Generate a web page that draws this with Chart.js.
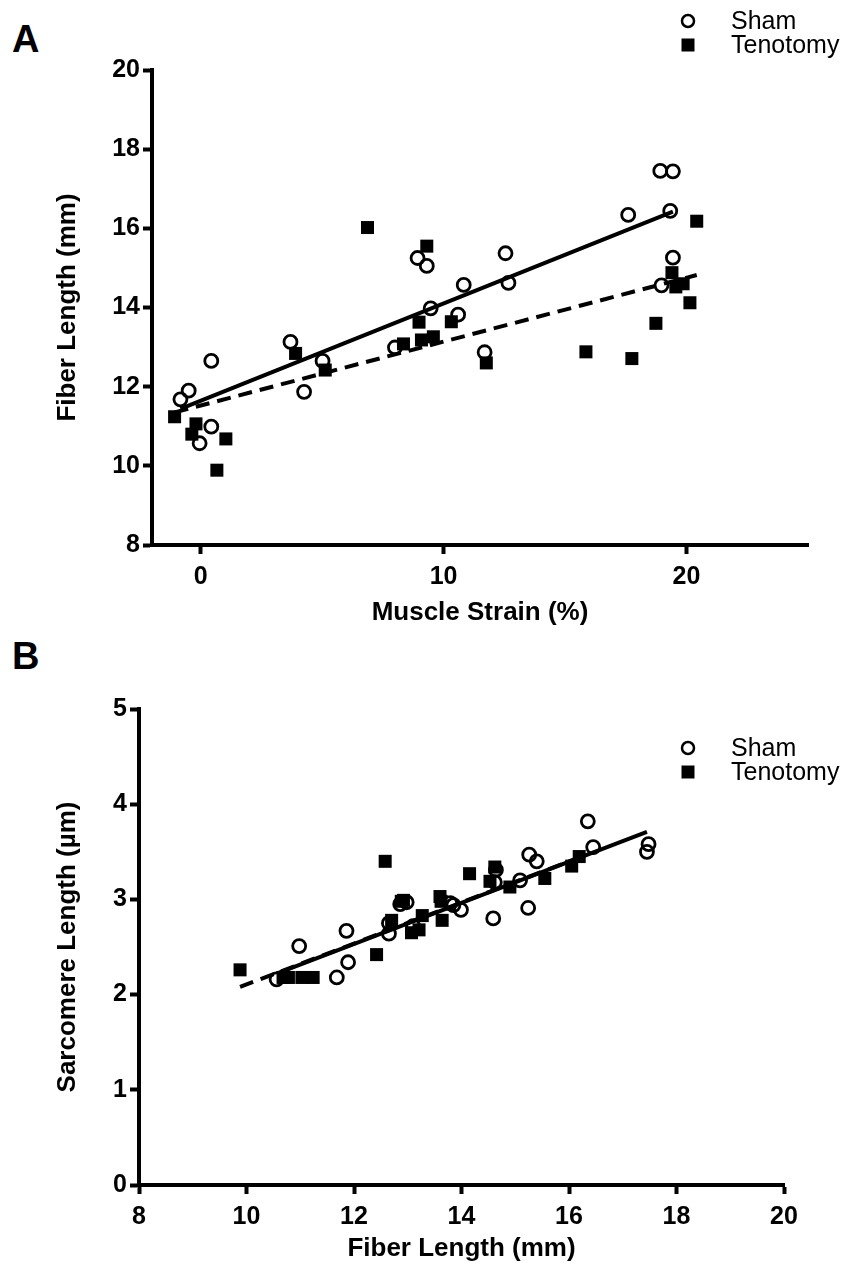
<!DOCTYPE html>
<html>
<head>
<meta charset="utf-8">
<script src="https://cdn.jsdelivr.net/npm/chart.js@4/dist/chart.umd.min.js"></script>
<style>
  html, body { margin: 0; padding: 0; background: #fff; }
  body { width: 845px; height: 1268px; position: relative; overflow: hidden; }
  canvas { position: absolute; left: 0; }
  .panel { position: absolute; font-family: "Liberation Sans", Arial, sans-serif; font-weight: bold; font-size: 38px; line-height: 1; }
</style>
</head>
<body>
<div class="panel" style="left:12px;top:20px;">A</div>
<div class="panel" style="left:12px;top:637px;">B</div>
<canvas id="chartA" width="845" height="630" style="top:0"></canvas>
<canvas id="chartB" width="845" height="638" style="top:630px"></canvas>
<script>
// Panel A: fiber length vs muscle strain
var shamStrain = [-0.83, -0.49, 0.44, 0.44, -0.04, 3.7, 4.26, 5.02, 8.0, 8.93, 9.31, 9.47, 10.6, 10.83, 12.55, 12.67, 11.69, 17.6, 18.92, 19.44, 19.33, 19.44, 18.97];
var shamFiberA = [11.68, 11.9, 12.65, 10.99, 10.57, 13.13, 11.87, 12.65, 12.99, 15.25, 15.05, 13.98, 13.82, 14.57, 15.37, 14.62, 12.87, 16.34, 17.45, 17.44, 16.44, 15.26, 14.56];
var tenoStrain = [-1.07, -0.19, -0.36, 1.04, 0.67, 3.91, 5.13, 6.87, 8.35, 9.31, 8.99, 9.09, 9.58, 10.32, 11.76, 15.86, 17.75, 18.74, 20.42, 19.4, 19.56, 19.86, 20.14];
var tenoFiberA = [11.24, 11.06, 10.8, 10.68, 9.89, 12.84, 12.42, 16.02, 13.08, 15.55, 13.63, 13.18, 13.26, 13.64, 12.6, 12.88, 12.71, 13.6, 16.18, 14.88, 14.52, 14.6, 14.12];
// regression line end points
var shamFitA = [[-0.83, 11.44], [19.44, 16.42]];
var tenoFitA = [[-1.07, 11.35], [20.42, 14.82]];
var ticksAx = [0, 10, 20];
var ticksAy = [8, 10, 12, 14, 16, 18, 20];

// Panel B: sarcomere length vs fiber length
var shamFiberB = [10.56, 10.98, 11.68, 11.86, 11.89, 12.65, 12.65, 12.86, 12.98, 13.1, 13.79, 13.85, 13.99, 14.59, 14.64, 14.62, 15.09, 15.24, 15.26, 15.4, 16.35, 16.45, 17.48, 17.45];
var shamSarc = [2.16, 2.51, 2.18, 2.67, 2.34, 2.75, 2.64, 2.95, 2.97, 2.72, 2.96, 2.94, 2.89, 2.8, 3.31, 3.18, 3.2, 2.91, 3.47, 3.4, 3.82, 3.55, 3.58, 3.5];
var tenoFiberB = [9.88, 10.68, 10.78, 11.03, 11.24, 12.42, 12.58, 12.7, 12.88, 12.92, 13.07, 13.21, 13.27, 13.6, 13.62, 13.64, 14.15, 14.53, 14.62, 14.9, 15.55, 16.05, 16.19];
var tenoSarc = [2.26, 2.18, 2.18, 2.18, 2.18, 2.42, 3.4, 2.78, 2.98, 2.99, 2.65, 2.68, 2.83, 3.03, 2.98, 2.78, 3.27, 3.19, 3.34, 3.13, 3.22, 3.35, 3.45];
var shamFitB = [[10.56, 2.22], [17.45, 3.71]];
var tenoFitB = [[9.88, 2.08], [16.19, 3.44]];
var ticksBx = [8, 10, 12, 14, 16, 18, 20];
var ticksBy = [0, 1, 2, 3, 4, 5];

var FONT = '"Liberation Sans Narrow", "Liberation Sans", Arial, sans-serif';

function pts(xs, ys) {
    return xs.map(function(x, i) { return { x: x, y: ys[i] }; });
}
function linePts(ends) {
    return ends.map(function(p) { return { x: p[0], y: p[1] }; });
}

// legend drawn at a fixed spot, like the original figure
var cornerLegend = {
    id: 'cornerLegend',
    afterDraw: function(chart, args, opts) {
        var ctx = chart.ctx;
        ctx.save();
        ctx.font = opts.fontSize + 'px ' + FONT;
        ctx.textBaseline = 'middle';
        ctx.fillStyle = '#000';
        chart.data.datasets.forEach(function(ds) {
            if (!ds.legendRow && ds.legendRow !== 0) return;
            var y = opts.y + ds.legendRow * opts.rowGap;
            ctx.lineWidth = 2.5;
            ctx.strokeStyle = '#000';
            if (ds.pointStyle === 'rect') {
                ctx.fillRect(opts.x - 6.5, y - 6.5, 13, 13);
            } else {
                ctx.beginPath();
                ctx.arc(opts.x, y, 6, 0, Math.PI * 2);
                ctx.stroke();
            }
            ctx.fillText(ds.label, opts.textX, y + 1);
        });
        ctx.restore();
    }
};

function makeChart(id, cfg) {
    var fixAxis = function(size, horiz) {
        return function(scale) {
            if (horiz) { scale.height = size; scale.paddingLeft = 0; scale.paddingRight = 0; }
            else { scale.width = size; scale.paddingTop = 0; scale.paddingBottom = 0; }
        };
    };
    var axisCommon = {
        type: 'linear',
        border: { display: true, color: '#000', width: 4 },
        grid: { drawOnChartArea: false, drawTicks: true, tickLength: 9, tickWidth: 4, color: '#000' },
        ticks: { color: '#000', font: { family: FONT, size: 25, weight: 'bold' } },
        title: { display: true, color: '#000', font: { family: FONT, size: 26, weight: 'bold' } }
    };
    return new Chart(document.getElementById(id), {
        type: 'scatter',
        data: {
            datasets: [
                { type: 'line', label: 'sham fit', data: linePts(cfg.shamFit), borderColor: '#000', borderWidth: 4, pointRadius: 0, fill: false, order: 0 },
                { type: 'line', label: 'tenotomy fit', data: linePts(cfg.tenoFit), borderColor: '#000', borderWidth: 4, borderDash: [14, 8], pointRadius: 0, fill: false, order: 0 },
                { label: 'Tenotomy', legendRow: 1, data: cfg.teno, pointStyle: 'rect', pointRadius: 9.2, backgroundColor: '#000', borderColor: '#000', borderWidth: 0, order: 1 },
                { label: 'Sham', legendRow: 0, data: cfg.sham, pointStyle: 'circle', pointRadius: 6.5, backgroundColor: 'rgba(0,0,0,0)', borderColor: '#000', borderWidth: 2.8, order: 2 }
            ]
        },
        options: {
            responsive: false,
            animation: false,
            events: [],
            layout: { padding: cfg.padding },
            plugins: {
                legend: { display: false },
                tooltip: { enabled: false },
                cornerLegend: cfg.legend
            },
            scales: {
                x: Object.assign({}, axisCommon, {
                    min: cfg.xMin, max: cfg.xMax,
                    afterFit: fixAxis(cfg.xHeight, true),
                    afterBuildTicks: function(scale) { scale.ticks = cfg.xTicks.map(function(v) { return { value: v }; }); },
                    ticks: Object.assign({}, axisCommon.ticks, { padding: 8 }),
                    title: Object.assign({}, axisCommon.title, { text: cfg.xTitle, padding: { top: 0, bottom: cfg.xTitlePad } })
                }),
                y: Object.assign({}, axisCommon, {
                    min: cfg.yMin, max: cfg.yMax,
                    afterFit: fixAxis(cfg.yWidth, false),
                    afterBuildTicks: function(scale) { scale.ticks = cfg.yTicks.map(function(v) { return { value: v }; }); },
                    ticks: Object.assign({}, axisCommon.ticks, { padding: 3 }),
                    title: Object.assign({}, axisCommon.title, { text: cfg.yTitle, padding: { top: cfg.yTitlePad, bottom: 0 } })
                })
            }
        },
        plugins: [cornerLegend]
    });
}

makeChart('chartA', {
    sham: pts(shamStrain, shamFiberA), teno: pts(tenoStrain, tenoFiberA),
    shamFit: shamFitA, tenoFit: tenoFitA,
    xMin: -2, xMax: 25, yMin: 8, yMax: 20,
    xTicks: ticksAx, yTicks: ticksAy,
    xTitle: 'Muscle Strain (%)', yTitle: 'Fiber Length (mm)',
    padding: { left: 0, right: 37, top: 70, bottom: 0 },
    yWidth: 152, xHeight: 85, xTitlePad: 2, yTitlePad: 52,
    legend: { x: 688, textX: 731, y: 21, rowGap: 24, fontSize: 25 }
});

makeChart('chartB', {
    sham: pts(shamFiberB, shamSarc), teno: pts(tenoFiberB, tenoSarc),
    shamFit: shamFitB, tenoFit: tenoFitB,
    xMin: 8, xMax: 20, yMin: 0, yMax: 5,
    xTicks: ticksBx, yTicks: ticksBy,
    xTitle: 'Fiber Length (mm)', yTitle: 'Sarcomere Length (\u00b5m)',
    padding: { left: 0, right: 61, top: 79, bottom: 0 },
    yWidth: 139, xHeight: 83, xTitlePad: 4, yTitlePad: 52,
    legend: { x: 688, textX: 731, y: 118, rowGap: 24, fontSize: 25 }
});
</script>
</body>
</html>
